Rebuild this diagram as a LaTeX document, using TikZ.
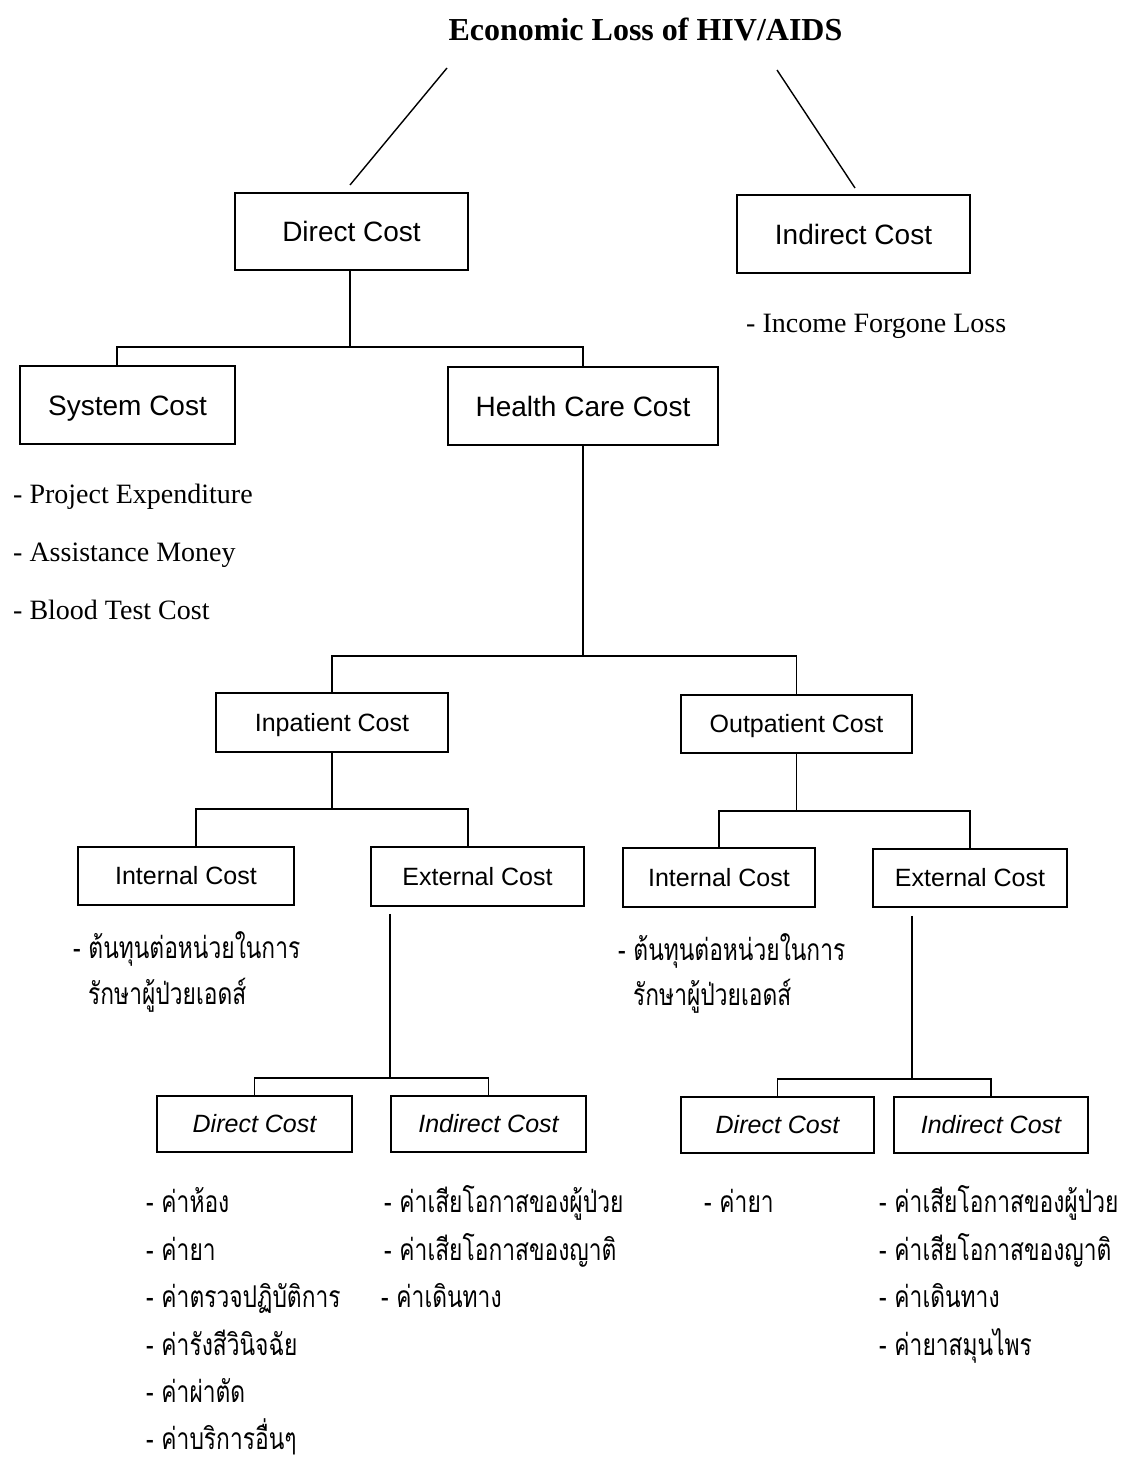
\documentclass[tikz,border=0pt]{standalone}
\usepackage{fontspec}
\setmainfont{Liberation Serif}
\newfontfamily\sansf{Liberation Sans}
\newfontfamily\thaif[Script=Thai,FakeStretch=0.76]{Loma}
\begin{document}
\begin{tikzpicture}[x=1pt,y=-1pt]
\tikzset{
  bigbox/.style={draw, line width=1.8pt, inner sep=0pt, text height=20pt, text depth=0pt, font=\sansf\fontsize{28}{30}\selectfont},
  midbox/.style={draw, line width=1.8pt, inner sep=0pt, text height=17.9pt, text depth=0pt, font=\sansf\fontsize{25}{28}\selectfont},
  itbox/.style={midbox, font=\sansf\itshape\fontsize{25}{28}\selectfont},
  sz/.style 2 args={minimum width=#1pt, minimum height=#2pt},
  conn/.style={line width=1.4pt},
  entxt/.style={anchor=base west, inner sep=0pt, font=\fontsize{28}{30}\selectfont},
  thaitxt/.style={anchor=base west, inner sep=0pt, font=\thaif\fontsize{30}{32}\selectfont},
}
\useasboundingbox[fill=white] (0,0) rectangle (1125,1482);

% title
\node[inner sep=0pt, font=\bfseries\fontsize{32}{34}\selectfont] (title) at (645.5,29) {Economic Loss of HIV/AIDS};

% boxes
\node[bigbox, sz={233}{77}] (dc) at (351.5,231.5) {Direct Cost};
\node[bigbox, sz={233}{78}] (ic) at (853.5,234) {Indirect Cost};
\node[bigbox, sz={215}{78}] (sys) at (127.5,405) {System Cost};
\node[bigbox, sz={270}{78}] (hc) at (583,406) {Health Care Cost};
\node[midbox, sz={232}{59}] (inp) at (332,722.5) {Inpatient Cost};
\node[midbox, sz={231}{58}] (outp) at (796.5,724) {Outpatient Cost};
\node[midbox, sz={216}{58}] (intL) at (186,876) {Internal Cost};
\node[midbox, sz={213}{59}] (extL) at (477.5,876.5) {External Cost};
\node[midbox, sz={192}{59}] (intR) at (719,877.5) {Internal Cost};
\node[midbox, sz={194}{58}] (extR) at (970,878) {External Cost};
\node[itbox, sz={195}{56}] (dcL) at (254.5,1124) {Direct Cost};
\node[itbox, sz={195}{56}] (icL) at (488.5,1124) {Indirect Cost};
\node[itbox, sz={193}{56}] (dcR) at (777.5,1125) {Direct Cost};
\node[itbox, sz={194}{56}] (icR) at (991,1125) {Indirect Cost};

% title lines
\coordinate (tla) at (447,68);
\coordinate (tlb) at (350,185);
\coordinate (tra) at (777,70);
\coordinate (trb) at (855,188);
\draw[conn] (tla) -- (tlb);
\draw[conn] (tra) -- (trb);

% connectors
\coordinate (b1) at (350,347);
\coordinate (sx) at (117,0);
\draw[conn] (dc.south -| b1) -- (b1);
\draw[conn] (sys.north -| sx) |- (b1) -| (hc.north);

\coordinate (b2) at (583,656);
\draw[conn] (hc.south) -- (hc.south |- b2);
\draw[conn] (inp.north) |- (b2) -| (outp.north);

\coordinate (b3) at (332,809);
\coordinate (ixl) at (196,0);
\coordinate (ixr) at (468,0);
\draw[conn] (inp.south) -- (inp.south |- b3);
\draw[conn] (intL.north -| ixl) |- (b3) -| (extL.north -| ixr);

\coordinate (b4) at (796.5,811);
\draw[conn] (outp.south) -- (outp.south |- b4);
\draw[conn] (intR.north) |- (b4) -| (extR.north);

\coordinate (b5) at (390,1078);
\draw[conn, shorten <=7pt] (extL.south -| b5) -- (b5);
\draw[conn] (dcL.north) |- (b5) -| (icL.north);

\coordinate (b6) at (912,1079);
\draw[conn, shorten <=8pt] (extR.south -| b6) -- (b6);
\draw[conn] (dcR.north) |- (b6) -| (icR.north);

% english lists
\node[entxt] (inc) at (746,332) {- Income Forgone Loss};
\node[entxt] (pe) at (13,503) {- Project Expenditure};
\node[entxt] (am) at (13,561) {- Assistance Money};
\node[entxt] (bt) at (13,619) {- Blood Test Cost};

% thai texts
\node[thaitxt] (il1) at (73,958) {- ต้นทุนต่อหน่วยในการ};
\node[thaitxt] (il2) at (88,1004) {รักษาผู้ป่วยเอดส์};
\node[thaitxt] (ir1) at (618,960) {- ต้นทุนต่อหน่วยในการ};
\node[thaitxt] (ir2) at (633,1005) {รักษาผู้ป่วยเอดส์};

\node[thaitxt] (d1) at (146,1212) {- ค่าห้อง};
\node[thaitxt] (d2) at (146,1260) {- ค่ายา};
\node[thaitxt] (d3) at (146,1307) {- ค่าตรวจปฏิบัติการ};
\node[thaitxt] (d4) at (146,1355) {- ค่ารังสีวินิจฉัย};
\node[thaitxt] (d5) at (146,1402) {- ค่าผ่าตัด};
\node[thaitxt] (d6) at (146,1449) {- ค่าบริการอื่นๆ};

\node[thaitxt] (e1) at (384,1212) {- ค่าเสียโอกาสของผู้ป่วย};
\node[thaitxt] (e2) at (384,1260) {- ค่าเสียโอกาสของญาติ};
\node[thaitxt] (e3) at (381,1307) {- ค่าเดินทาง};

\node[thaitxt] (f1) at (704,1212) {- ค่ายา};

\node[thaitxt] (g1) at (879,1212) {- ค่าเสียโอกาสของผู้ป่วย};
\node[thaitxt] (g2) at (879,1260) {- ค่าเสียโอกาสของญาติ};
\node[thaitxt] (g3) at (879,1307) {- ค่าเดินทาง};
\node[thaitxt] (g4) at (879,1355) {- ค่ายาสมุนไพร};
\end{tikzpicture}
\end{document}
